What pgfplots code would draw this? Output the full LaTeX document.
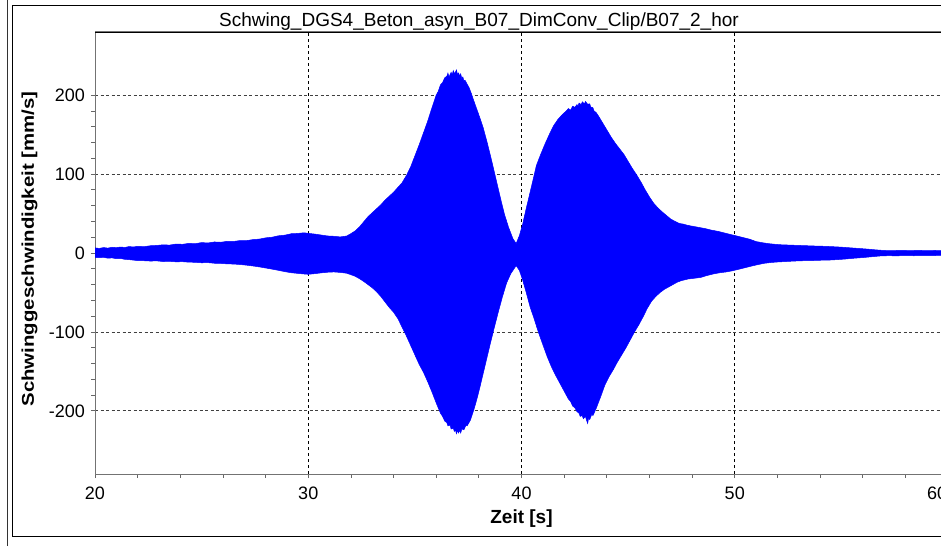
\documentclass[border=0pt]{standalone}
\usepackage{pgfplots}
\pgfplotsset{compat=1.18}
\usepackage{pgfplotstable}
\usepackage{fontspec}
\setmainfont{Liberation Sans}
\newfontfamily\ylabfont[FakeStretch=1.2]{Liberation Sans}

\pgfplotstableread{
x y
20.0 6.5
20.2 5.8
20.4 6.9
20.6 6.2
20.8 7.3
21.0 6.8
21.2 7.6
21.4 7.0
21.6 8.2
21.8 7.6
22.0 8.5
22.3 8.0
22.6 9.2
22.9 9.6
23.2 10.4
23.5 10.0
23.8 11.4
24.1 11.0
24.4 12.2
24.7 11.8
25.0 13.2
25.3 12.7
25.6 14.0
25.9 13.6
26.2 14.8
26.5 14.6
26.8 15.8
27.1 15.6
27.4 17.0
27.7 17.6
28.0 19.2
28.3 20.0
28.6 21.8
28.9 22.6
29.2 24.4
29.5 24.8
29.8 25.6
30.0 24.9
30.3 24.0
30.6 22.8
30.9 21.6
31.2 21.2
31.5 20.4
31.8 21.5
32.0 24.5
32.2 28.0
32.4 33.0
32.6 39.5
32.8 46.0
33.0 51.0
33.2 56.0
33.4 61.0
33.6 67.0
33.8 72.0
34.0 77.0
34.2 83.0
34.4 89.0
34.6 98.0
34.8 109.0
35.0 123.0
35.2 137.0
35.4 152.0
35.6 167.0
35.8 184.0
36.0 200.0
36.1 205.0
36.2 213.0
36.3 216.0
36.4 222.0
36.5 224.0
36.55 228.0
36.6 223.0
36.7 229.0
36.75 226.0
36.8 231.0
36.85 227.5
36.9 229.0
36.95 232.0
37.0 226.0
37.05 228.0
37.1 224.0
37.15 227.0
37.2 221.0
37.25 223.0
37.3 218.0
37.35 219.0
37.45 214.0
37.55 209.0
37.65 202.0
37.8 190.0
38.0 175.0
38.2 159.0
38.4 139.0
38.6 117.0
38.8 94.0
39.0 71.0
39.2 49.0
39.4 32.0
39.6 18.0
39.75 12.0
39.9 22.0
40.05 36.0
40.2 54.0
40.35 71.0
40.5 88.0
40.7 111.0
40.9 125.0
41.1 138.0
41.3 150.0
41.5 161.0
41.7 169.0
41.9 175.0
42.1 180.0
42.2 183.0
42.3 181.0
42.4 186.0
42.5 184.5
42.6 188.0
42.65 186.0
42.7 190.0
42.8 188.0
42.85 191.5
42.95 189.0
43.0 192.0
43.1 188.5
43.2 189.0
43.25 185.0
43.35 184.0
43.4 180.0
43.5 178.0
43.6 174.0
43.8 165.0
44.0 156.0
44.2 147.0
44.4 139.0
44.6 132.0
44.8 125.0
45.0 116.0
45.2 107.0
45.4 99.0
45.6 90.0
45.8 80.0
46.0 71.0
46.2 63.0
46.4 57.0
46.6 52.0
46.8 47.5
47.0 43.0
47.2 40.0
47.4 37.5
47.6 36.5
47.8 35.0
48.0 34.0
48.3 32.5
48.6 31.0
48.9 29.0
49.2 27.5
49.5 25.5
49.8 23.5
50.1 21.5
50.4 19.5
50.7 17.5
51.0 14.5
51.3 13.0
51.6 11.8
51.9 11.0
52.2 10.4
52.6 10.0
53.0 9.6
53.4 9.2
53.8 8.8
54.2 8.5
54.6 8.0
55.0 7.4
55.4 6.6
55.8 5.8
56.2 5.0
56.6 4.0
57.0 3.2
57.4 3.0
57.8 3.4
58.2 3.0
58.6 3.3
59.0 3.0
59.4 3.2
59.8 2.8
60.0 3.0
}\upperdata

\pgfplotstableread{
x y
20.0 -5.5
20.2 -6.0
20.4 -5.4
20.6 -6.6
20.8 -6.2
21.0 -7.2
21.2 -7.0
21.4 -8.0
21.6 -8.4
21.8 -9.0
22.0 -9.6
22.3 -9.8
22.6 -10.2
22.9 -10.0
23.2 -10.8
23.5 -10.6
23.8 -11.2
24.1 -11.0
24.4 -11.6
24.7 -11.8
25.0 -12.4
25.3 -12.2
25.6 -13.0
25.9 -13.2
26.2 -13.8
26.5 -14.0
26.8 -14.6
27.1 -15.4
27.4 -16.4
27.7 -17.6
28.0 -19.0
28.3 -20.4
28.6 -22.0
28.9 -23.6
29.2 -25.0
29.5 -25.8
29.8 -26.6
30.0 -27.0
30.3 -26.2
30.6 -25.2
30.9 -24.4
31.2 -24.0
31.5 -24.6
31.8 -25.6
32.0 -27.5
32.2 -29.5
32.4 -32.5
32.6 -36.0
32.8 -40.0
33.0 -44.0
33.2 -49.0
33.4 -55.0
33.6 -62.0
33.8 -69.0
34.0 -75.0
34.2 -83.0
34.4 -94.0
34.6 -105.0
34.8 -117.0
35.0 -129.0
35.2 -141.0
35.4 -151.0
35.6 -163.0
35.8 -176.0
36.0 -190.0
36.2 -203.0
36.3 -207.0
36.4 -213.0
36.5 -215.0
36.55 -219.0
36.65 -218.0
36.7 -223.0
36.8 -222.0
36.85 -226.0
36.9 -224.0
36.95 -229.0
37.0 -225.0
37.05 -228.0
37.1 -224.5
37.15 -228.0
37.2 -223.0
37.3 -224.0
37.4 -218.0
37.45 -219.0
37.6 -212.0
37.75 -200.0
37.9 -186.0
38.05 -170.0
38.2 -153.0
38.35 -136.0
38.5 -119.0
38.7 -97.0
38.9 -76.0
39.1 -56.0
39.3 -38.0
39.5 -26.0
39.75 -16.0
39.9 -22.0
40.05 -34.0
40.2 -48.0
40.4 -68.0
40.6 -84.0
40.8 -101.0
41.0 -116.0
41.2 -131.0
41.4 -144.0
41.6 -155.0
41.8 -165.0
42.0 -175.0
42.2 -185.0
42.3 -188.0
42.4 -194.0
42.5 -196.0
42.6 -201.0
42.7 -203.0
42.75 -207.0
42.85 -206.0
42.9 -210.0
43.0 -207.0
43.05 -212.0
43.1 -216.0
43.15 -209.0
43.2 -211.0
43.3 -204.0
43.35 -206.0
43.5 -197.0
43.7 -183.0
43.9 -168.0
44.1 -157.0
44.3 -148.0
44.5 -138.0
44.7 -129.0
44.9 -120.0
45.1 -110.0
45.3 -100.0
45.5 -91.0
45.7 -81.0
45.9 -70.0
46.1 -61.0
46.3 -55.0
46.5 -50.0
46.7 -46.0
46.9 -43.0
47.1 -40.0
47.3 -37.0
47.5 -35.0
47.8 -33.0
48.1 -32.0
48.4 -31.0
48.7 -28.5
49.0 -26.5
49.3 -25.0
49.6 -24.0
49.9 -22.5
50.2 -20.5
50.5 -18.5
50.8 -16.5
51.1 -14.6
51.4 -13.0
51.7 -12.0
52.0 -11.4
52.4 -10.8
52.8 -10.2
53.2 -9.8
53.6 -9.6
54.0 -9.2
54.4 -9.0
54.8 -8.4
55.2 -7.6
55.6 -6.6
56.0 -5.8
56.4 -4.8
56.8 -3.8
57.2 -3.4
57.6 -3.6
58.0 -3.2
58.4 -3.5
58.8 -3.2
59.2 -3.4
59.6 -3.0
60.0 -3.2
}\lowerdata

\definecolor{sigblue}{RGB}{0,0,255}

\begin{document}
\begin{tikzpicture}[x=1pt,y=1pt]
\fill[white] (0,0) rectangle (941,546);
\draw[black!80, line width=0.8pt] (7,0) -- (7,546);
\draw[black, line width=0.8pt] (941,10) -- (12,10) -- (12,541) -- (941,541);
\node[anchor=base, font=\fontsize{19}{21}\selectfont] at (479,519.5) {Schwing\_DGS4\_Beton\_asyn\_B07\_DimConv\_Clip/B07\_2\_hor};
\begin{axis}[
  at={(95pt,72pt)}, anchor=south west,
  scale only axis, width=853pt, height=442pt,
  xmin=20, xmax=60, ymin=-280, ymax=280,
  xtick={20,30,40,50}, xticklabels={20,30,40,50},
  minor xtick={22,24,26,28,32,34,36,38,42,44,46,48,52,54,56,58},
  extra x ticks={60}, extra x tick labels={60},
  extra x tick style={xticklabel style={xshift=-11pt}},
  ytick={-200,-100,0,100,200}, yticklabels={-200,-100,0,100,200},
  minor y tick num=4,
  xtick pos=left, ytick pos=left,
  tick align=outside,
  major tick length=4pt, minor tick length=3.5pt,
  tick style={black!60, line width=0.8pt},
  axis line style={black!55, line width=1pt},
  xmajorgrids, ymajorgrids,
  x grid style={black, dash pattern=on 3pt off 3pt, line width=0.8pt},
  y grid style={black!75, dash pattern=on 3pt off 2.5pt, line width=0.8pt},
  tick label style={font=\fontsize{18}{20}\selectfont},
  yticklabel style={anchor=east, inner sep=0pt, xshift=-6pt},
  xticklabel style={anchor=north, inner sep=0pt, yshift=-9pt},
  xlabel={Zeit [s]},
  xlabel style={at={(axis description cs:0.5,-0.1018)}, anchor=center, font=\fontsize{19}{21}\selectfont\bfseries},
  ylabel={Schwinggeschwindigkeit [mm/s]},
  ylabel style={at={(axis description cs:-0.0768,0.509)}, anchor=center, font=\fontsize{17}{19}\ylabfont\bfseries},
]
\addplot[draw=sigblue, fill=sigblue, line width=0.5pt] table[x=x,y=y] {\upperdata} \closedcycle;
\addplot[draw=sigblue, fill=sigblue, line width=0.5pt] table[x=x,y=y] {\lowerdata} \closedcycle;
\end{axis}
\draw[black, line width=0.9pt] (95,514) -- (941,514);
\pgfresetboundingbox
\useasboundingbox (0,0) rectangle (941,546);
\end{tikzpicture}
\end{document}
